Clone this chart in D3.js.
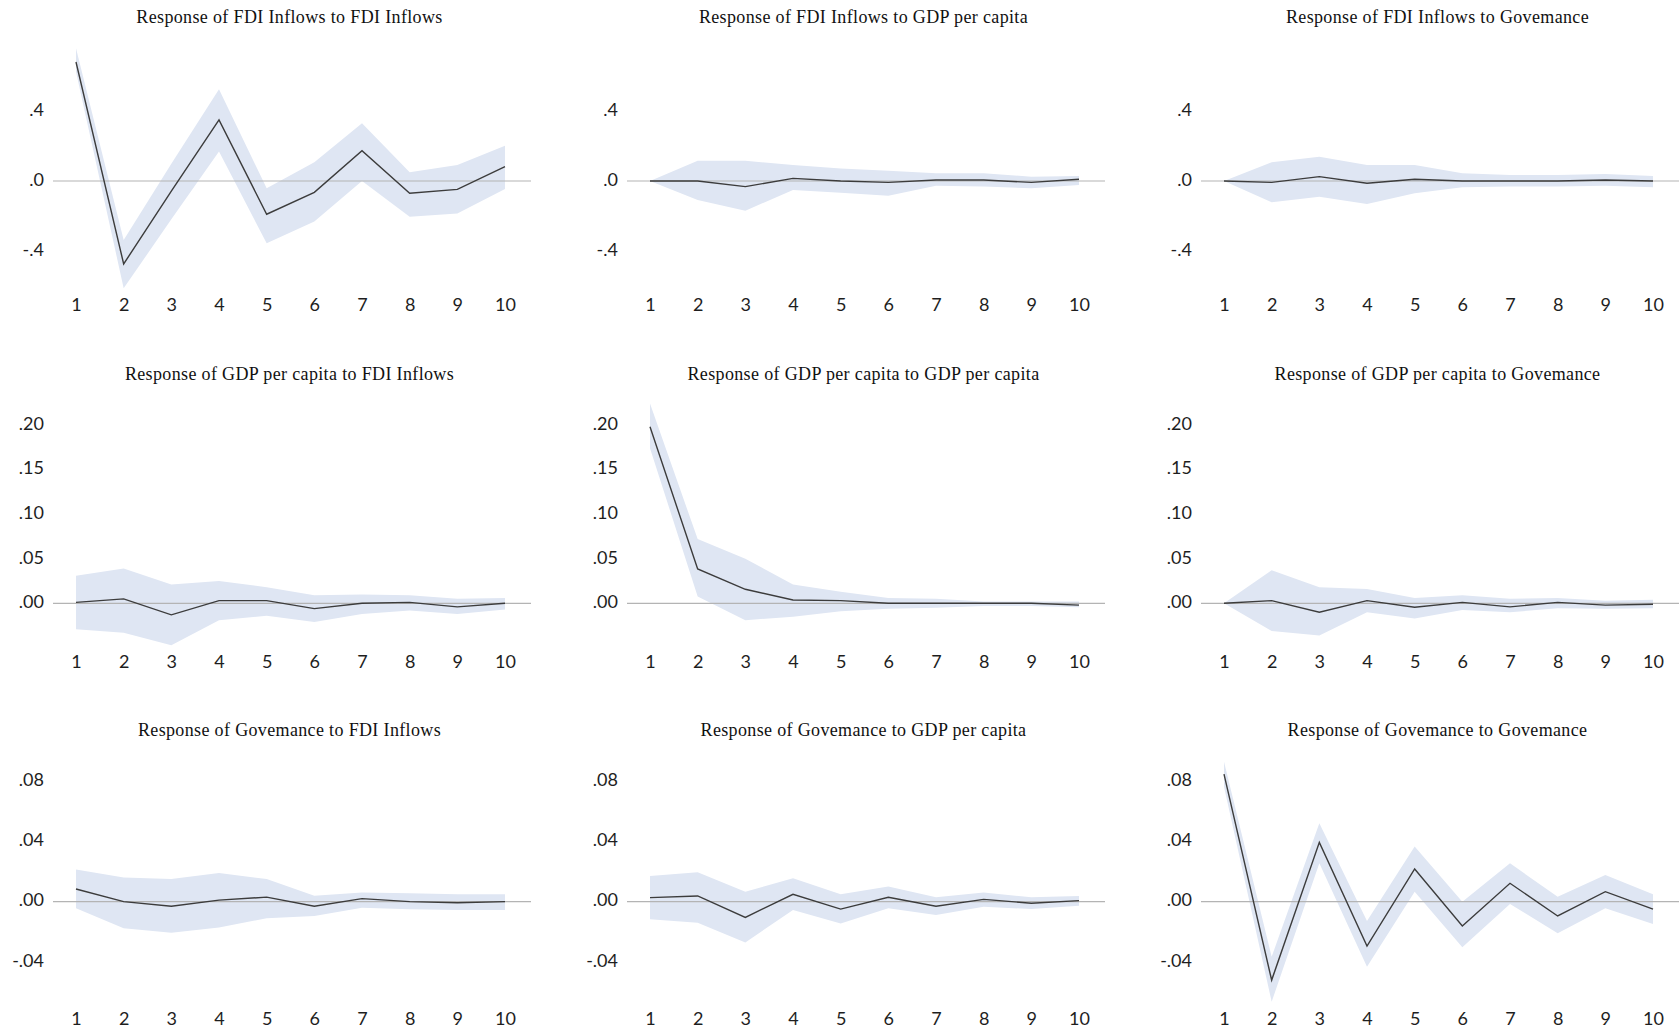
<!DOCTYPE html>
<html lang="en">
<head>
<meta charset="UTF-8">
<title>Impulse responses</title>
<script src="https://cdn.jsdelivr.net/npm/d3@7"></script>
<style>
  body { margin: 0; background: #fff; }
  svg { display: block; }
  .tick text { font-family: Lato, "Open Sans", sans-serif; font-size: 18px; fill: #1e1e1e; }
  .title { font-family: "Liberation Serif", serif; font-size: 18px; letter-spacing: 0.35px; fill: #111; }
</style>
</head>
<body>
<script>
// periods and variable names
var periods = [1, 2, 3, 4, 5, 6, 7, 8, 9, 10];
var variables = ["FDI Inflows", "GDP per capita", "Govemance"];

// y tick labels per row (response variable)
var yTicksFdi = [-0.4, 0, 0.4];
var yTicksGdp = [0, 0.05, 0.10, 0.15, 0.20];
var yTicksGov = [-0.04, 0, 0.04, 0.08];

// response of FDI Inflows
var fdiToFdi    = [0.68, -0.474, -0.058, 0.349, -0.19, -0.065, 0.173, -0.07, -0.048, 0.082];
var fdiToFdiHi  = [0.758, -0.337, 0.099, 0.524, -0.042, 0.107, 0.33, 0.05, 0.091, 0.202];
var fdiToFdiLo  = [0.625, -0.613, -0.219, 0.168, -0.356, -0.232, 0.0, -0.204, -0.185, -0.046];

var fdiToGdp    = [0, 0, -0.032, 0.015, 0, -0.008, 0.006, 0.006, -0.008, 0.01];
var fdiToGdpHi  = [0, 0.116, 0.116, 0.091, 0.072, 0.059, 0.044, 0.044, 0.025, 0.029];
var fdiToGdpLo  = [0, -0.109, -0.17, -0.051, -0.067, -0.084, -0.027, -0.032, -0.042, -0.023];

var fdiToGov    = [0, -0.008, 0.025, -0.013, 0.01, 0, 0, 0, 0.006, 0];
var fdiToGovHi  = [0, 0.107, 0.139, 0.091, 0.091, 0.044, 0.034, 0.034, 0.04, 0.029];
var fdiToGovLo  = [0, -0.122, -0.09, -0.131, -0.07, -0.036, -0.032, -0.032, -0.027, -0.036];

// response of GDP per capita
var gdpToFdi    = [0.001, 0.005, -0.013, 0.003, 0.003, -0.006, 0, 0.001, -0.004, 0];
var gdpToFdiHi  = [0.031, 0.039, 0.021, 0.025, 0.018, 0.009, 0.010, 0.009, 0.005, 0.006];
var gdpToFdiLo  = [-0.029, -0.033, -0.047, -0.019, -0.014, -0.021, -0.012, -0.008, -0.012, -0.007];

var gdpToGdp    = [0.198, 0.0385, 0.0157, 0.0037, 0.003, 0, 0, 0, 0, -0.002];
var gdpToGdpHi  = [0.224, 0.072, 0.050, 0.021, 0.013, 0.006, 0.005, 0.002, 0.002, 0.002];
var gdpToGdpLo  = [0.174, 0.0075, -0.019, -0.015, -0.009, -0.006, -0.005, -0.003, -0.003, -0.0045];

var gdpToGov    = [0, 0.003, -0.010, 0.003, -0.0045, 0.001, -0.004, 0.001, -0.002, -0.001];
var gdpToGovHi  = [0, 0.037, 0.018, 0.016, 0.006, 0.009, 0.005, 0.006, 0.003, 0.004];
var gdpToGovLo  = [0, -0.031, -0.036, -0.010, -0.017, -0.0075, -0.010, -0.0056, -0.006, -0.0056];

// response of Govemance
var govToFdi    = [0.0084, 0, -0.003, 0.001, 0.003, -0.003, 0.002, 0, -0.0007, 0];
var govToFdiHi  = [0.0214, 0.016, 0.015, 0.019, 0.015, 0.004, 0.006, 0.0055, 0.005, 0.005];
var govToFdiLo  = [-0.0044, -0.0177, -0.0206, -0.0172, -0.011, -0.0095, -0.004, -0.005, -0.0055, -0.0055];

var govToGdp    = [0.0027, 0.0038, -0.0104, 0.0049, -0.0049, 0.0029, -0.003, 0.0015, -0.001, 0.0007];
var govToGdpHi  = [0.017, 0.0195, 0.0066, 0.0155, 0.0049, 0.010, 0.0029, 0.006, 0.0029, 0.0038];
var govToGdpLo  = [-0.0117, -0.014, -0.027, -0.0055, -0.0144, -0.0044, -0.0088, -0.0033, -0.0049, -0.0027];

var govToGov    = [0.0846, -0.052, 0.0393, -0.0294, 0.0217, -0.0161, 0.0122, -0.0095, 0.0066, -0.0049];
var govToGovHi  = [0.0928, -0.0365, 0.052, -0.0128, 0.0365, 0, 0.0254, 0.0033, 0.0177, 0.0049];
var govToGovLo  = [0.0762, -0.0663, 0.0254, -0.0431, 0.0066, -0.0303, -0.0015, -0.021, -0.0044, -0.0148];

var panels = [
  [[fdiToFdi, fdiToFdiLo, fdiToFdiHi], [fdiToGdp, fdiToGdpLo, fdiToGdpHi], [fdiToGov, fdiToGovLo, fdiToGovHi]],
  [[gdpToFdi, gdpToFdiLo, gdpToFdiHi], [gdpToGdp, gdpToGdpLo, gdpToGdpHi], [gdpToGov, gdpToGovLo, gdpToGovHi]],
  [[govToFdi, govToFdiLo, govToFdiHi], [govToGdp, govToGdpLo, govToGdpHi], [govToGov, govToGovLo, govToGovHi]]
];
var yTicks = [yTicksFdi, yTicksGdp, yTicksGov];

// layout (pixels)
var rowLayout = [
  {domain: [-0.4, 0.4],   range: [251, 111],   xAxisY: 298.5, titleY: 23,  decimals: 1},
  {domain: [0, 0.2],      range: [603.3, 425], xAxisY: 655,   titleY: 380, decimals: 2},
  {domain: [-0.04, 0.08], range: [962, 781],   xAxisY: 1012.5, titleY: 735.5, decimals: 2}
];
var colLeft = 76, colSpan = 429, colStep = 574;

var svg = d3.select("body").append("svg").attr("width", 1680).attr("height", 1030);

function fmt(decimals) {
  var f = d3.format("." + decimals + "f");
  return function(v) {
    var s = f(Math.abs(v)).replace(/^0\./, ".");
    return (v < 0 ? "-" : "") + s;
  };
}

rowLayout.forEach(function(row, r) {
  variables.forEach(function(shock, c) {
    var data = panels[r][c];
    var resp = data[0], lo = data[1], hi = data[2];

    var x = d3.scaleLinear().domain([1, 10]).range([colLeft + colStep * c, colLeft + colSpan + colStep * c]);
    var y = d3.scaleLinear().domain(row.domain).range(row.range);
    var g = svg.append("g");

    // band
    var area = d3.area()
      .x(function(d, i) { return x(periods[i]); })
      .y0(function(d, i) { return y(lo[i]); })
      .y1(function(d, i) { return y(hi[i]); });
    g.append("path").datum(resp).attr("d", area).attr("fill", "#dfe6f3");

    // zero line
    g.append("line")
      .attr("x1", x(1) - 23).attr("x2", x(10) + 26)
      .attr("y1", y(0)).attr("y2", y(0))
      .attr("stroke", "#b4b4b4").attr("stroke-width", 1.2);

    // response
    var line = d3.line()
      .x(function(d, i) { return x(periods[i]); })
      .y(function(d) { return y(d); });
    g.append("path").datum(resp).attr("d", line)
      .attr("fill", "none").attr("stroke", "#3c3c3c").attr("stroke-width", 1.4);

    // axes
    var yAxis = d3.axisLeft(y).tickValues(yTicks[r]).tickSize(0).tickPadding(0).tickFormat(fmt(row.decimals));
    g.append("g").attr("transform", "translate(" + (x(1) - 32) + ",0)").call(yAxis)
      .call(function(a) { a.select(".domain").remove(); a.selectAll("text").attr("dy", "0.24em"); });

    var xAxis = d3.axisBottom(x).tickValues(periods).tickSize(0).tickPadding(0).tickFormat(d3.format("d"));
    g.append("g").attr("transform", "translate(0," + row.xAxisY + ")").call(xAxis)
      .call(function(a) { a.select(".domain").remove(); });

    // title
    g.append("text").attr("class", "title")
      .attr("x", (x(1) + x(10)) / 2 - 1)
      .attr("y", row.titleY)
      .attr("text-anchor", "middle")
      .text("Response of " + variables[r] + " to " + shock);
  });
});
</script>
</body>
</html>
